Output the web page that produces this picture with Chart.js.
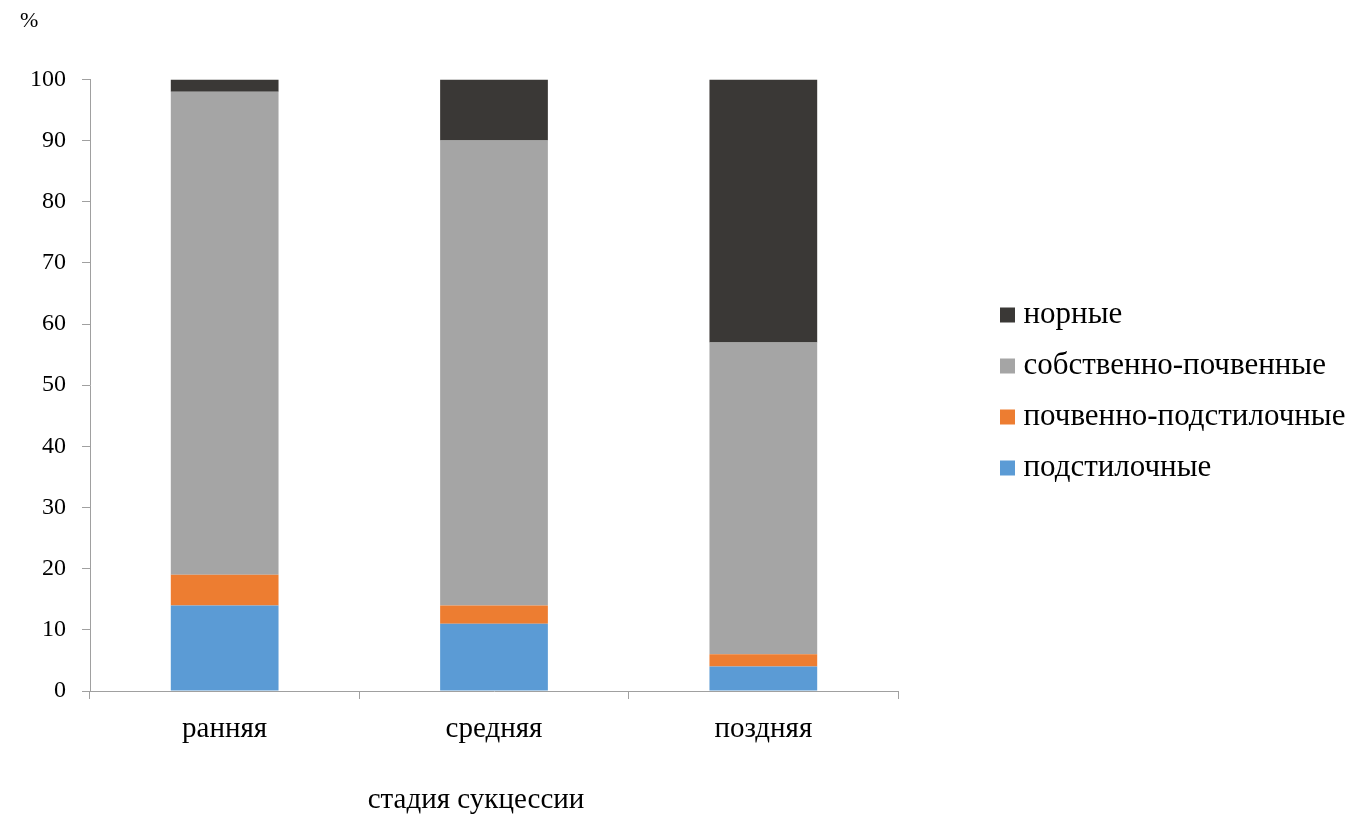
<!DOCTYPE html>
<html>
<head>
<meta charset="utf-8">
<script src="https://cdn.jsdelivr.net/npm/chart.js@4/dist/chart.umd.min.js"></script>
<style>
html,body{margin:0;padding:0;background:#fff;}
#wrap{width:1361px;height:815px;position:relative;}
</style>
</head>
<body>
<div id="wrap"><canvas id="c" width="1361" height="815"></canvas></div>
<script>
const categories = ['ранняя', 'средняя', 'поздняя'];
const podstilochnye = [14, 11, 4];
const pochvennoPodstilochnye = [5, 3, 2];
const sobstvennoPochvennye = [79, 76, 51];
const nornye = [2, 10, 43];
const yTicks = [0, 10, 20, 30, 40, 50, 60, 70, 80, 90, 100];

const FONT = '"Liberation Serif", "Times New Roman", serif';
Chart.defaults.font.family = FONT;
Chart.defaults.color = '#000';

// Layout helper: reserve room for the legend, move it to its spot,
// and nudge the x-axis title slightly left as in the reference.
const layoutTweaks = {
  id: 'layoutTweaks',
  beforeLayout(chart) {
    const L = chart.legend;
    if (L && !L._patched) {
      const orig = L.fit.bind(L);
      L.fit = function () { orig(); this.width = 463; };
      L._patched = true;
    }
  },
  afterLayout(chart) {
    const L = chart.legend;
    if (L) {
      L.left += 89;
      L.top -= 20; L.bottom -= 20;
    }
    const xs = chart.scales.x;
    if (xs && !xs._patched) {
      const o = xs.drawTitle.bind(xs);
      xs.drawTitle = function () {
        const c = this.ctx; c.save(); c.translate(-18, 0); o(); c.restore();
      };
      xs._patched = true;
    }
  }
};

new Chart(document.getElementById('c'), {
  type: 'bar',
  data: {
    labels: categories,
    datasets: [
      {label: 'подстилочные', data: podstilochnye, backgroundColor: '#5B9BD5'},
      {label: 'почвенно-подстилочные', data: pochvennoPodstilochnye, backgroundColor: '#ED7D31'},
      {label: 'собственно-почвенные', data: sobstvennoPochvennye, backgroundColor: '#A5A5A5'},
      {label: 'норные', data: nornye, backgroundColor: '#3A3836'}
    ]
  },
  plugins: [layoutTweaks],
  options: {
    responsive: false,
    animation: false,
    datasets: {bar: {barPercentage: 0.4, categoryPercentage: 1.0, borderWidth: 0}},
    layout: {padding: {left: 20, right: 0, top: 8, bottom: 0}},
    plugins: {
      tooltip: {enabled: false},
      title: {
        display: true, text: '%', align: 'start',
        font: {size: 22, weight: 'normal', family: FONT, lineHeight: 1.2}, color: '#000',
        padding: {top: 0, bottom: 45}
      },
      legend: {
        position: 'right', reverse: true,
        labels: {usePointStyle: true, pointStyle: 'rect', boxWidth: 1, boxHeight: 15,
                 padding: 20, color: '#000', font: {size: 31, family: FONT}}
      }
    },
    scales: {
      x: {
        stacked: true,
        grid: {display: true, drawOnChartArea: false, drawTicks: true, tickLength: 8, color: '#A0A0A0', offset: true},
        border: {display: true, color: '#A0A0A0', width: 1},
        ticks: {font: {size: 29, family: FONT, lineHeight: 1.0}, color: '#000', padding: 16},
        title: {display: true, text: 'стадия сукцессии', font: {size: 29, family: FONT, lineHeight: 1.0}, color: '#000', padding: {top: 26, bottom: 0}}
      },
      y: {
        stacked: true, min: 0, max: 100,
        afterBuildTicks: s => { s.ticks = yTicks.map(v => ({value: v})); },
        afterFit: s => { s.width = 70; },
        grid: {display: true, drawOnChartArea: false, drawTicks: true, tickLength: 8, color: '#A0A0A0'},
        border: {display: true, color: '#A0A0A0', width: 1},
        ticks: {font: {size: 24, family: FONT}, color: '#000', padding: 16}
      }
    }
  }
});
</script>
</body>
</html>
